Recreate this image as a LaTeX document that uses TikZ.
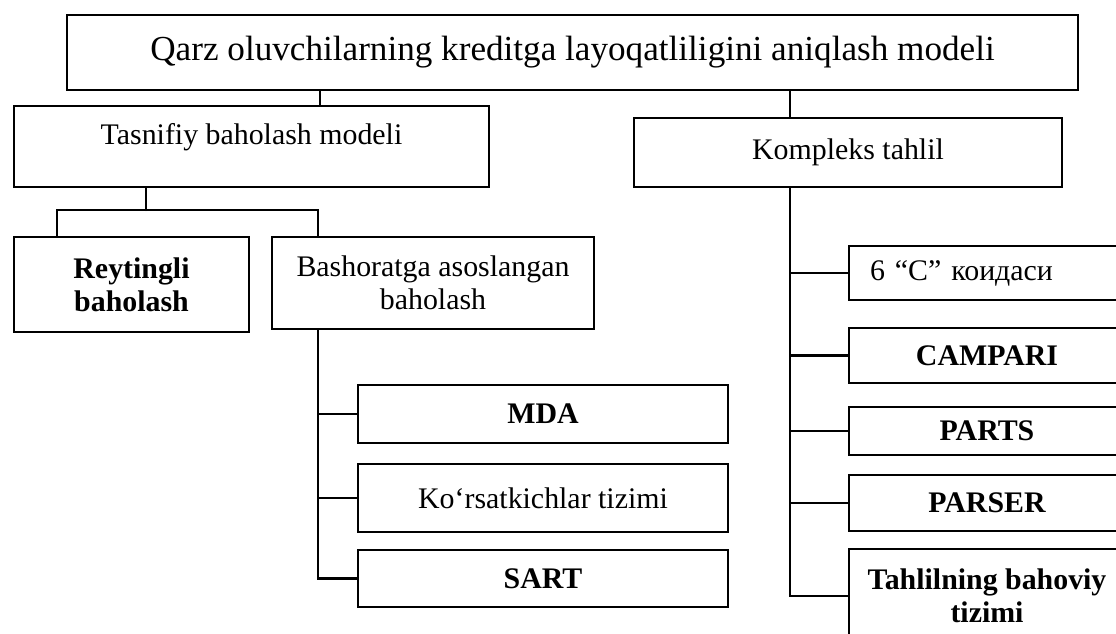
\documentclass[tikz,border=0pt]{standalone}
\usepackage{
	fontspec,			% Fonts
	xcolor
}
\setmainfont{Liberation Serif}
\usetikzlibrary{positioning}

\tikzset{
	box/.style={draw, line width=1.4pt, inner sep=2pt, align=center,
		font=\fontsize{17}{19}\selectfont},
	boldbox/.style={box, font=\fontsize{17}{19}\selectfont\bfseries},
	link/.style={line width=1.4pt, line cap=round}
}

\begin{document}
\begin{tikzpicture}[line join=miter]
		% fix the size of the picture
		\useasboundingbox (0cm,0cm) rectangle (22.32cm,-12.66cm);
		\clip (0cm,0cm) rectangle (22.32cm,-12.66cm);

		% draw the top box
		\node[box, minimum width=20.22cm, minimum height=1.5cm,
			font=\fontsize{20}{24}\selectfont] (title) at (11.45cm,-1.05cm)
			{Qarz oluvchilarning kreditga layoqatliligini aniqlash modeli};

		% draw the two models
		\node[box, minimum width=9.5cm, minimum height=1.62cm,
			text height=12pt, text depth=14pt] (tasnif) at (5.03cm,-2.93cm)
			{Tasnifiy baholash modeli};
		\node[box, minimum width=8.56cm, minimum height=1.38cm] (kompleks)
			at (16.96cm,-3.05cm) {Kompleks tahlil};

		% draw the left branch
		\node[boldbox, minimum width=4.7cm, minimum height=1.9cm] (reyting)
			at (2.63cm,-5.69cm) {Reytingli\\baholash};
		\node[box, minimum width=6.44cm, minimum height=1.84cm] (bashorat)
			at (8.66cm,-5.66cm) {Bashoratga asoslangan\\baholash};

		\node[boldbox, minimum width=7.4cm, minimum height=1.16cm] (mda)
			at (10.86cm,-8.28cm) {MDA};
		\node[box, minimum width=7.4cm, minimum height=1.36cm] (korsat)
			at (10.86cm,-9.96cm) {Ko‘rsatkichlar tizimi};
		\node[boldbox, minimum width=7.4cm, minimum height=1.14cm] (sart)
			at (10.86cm,-11.57cm) {SART};

		% draw the right branch
		\node[box, minimum width=5.52cm, minimum height=1.08cm, align=left,
			text width=4.68cm, inner xsep=0.42cm] (sixc) at (19.74cm,-5.46cm)
			{6 “C” коидаси};
		\foreach \n/\y/\h/\t in {
			campari/-7.11/1.1/CAMPARI,
			parts/-8.62/0.96/PARTS,
			parser/-10.06/1.12/PARSER,
			tahlil/-11.92/1.88/Tahlilning bahoviy\\tizimi}
		\node[boldbox, minimum width=5.52cm, minimum height=\h cm] (\n)
			at (19.74cm,\y cm) {\t};

		% the junctions of the connectors
		\coordinate (tl) at (6.4cm,-1.8cm);
		\coordinate (tr) at (15.8cm,-1.8cm);
		\coordinate (tm) at (2.92cm,-4.2cm);
		\coordinate (rj) at (1.14cm,-4.2cm);
		\coordinate (bj) at (6.36cm,-4.2cm);

		% connectors from the top box
		\draw[link] (tasnif.north -| tl) -- (tl) -- (tr) -- (kompleks.north -| tr);

		% connectors of the left branch
		\draw[link] (tasnif.south -| tm) -- (tm);
		\draw[link] (reyting.north -| rj) -- (rj) -- (bj) -- (bashorat.north -| bj);
		\foreach \n in {mda,korsat,sart}
		\draw[link] (bashorat.south -| bj) |- (\n.west);

		% connectors of the right branch
		\foreach \n in {sixc,campari,parts,parser,tahlil}
		\draw[link] (kompleks.south -| tr) |- (\n.west);
	\end{tikzpicture}
\end{document}
